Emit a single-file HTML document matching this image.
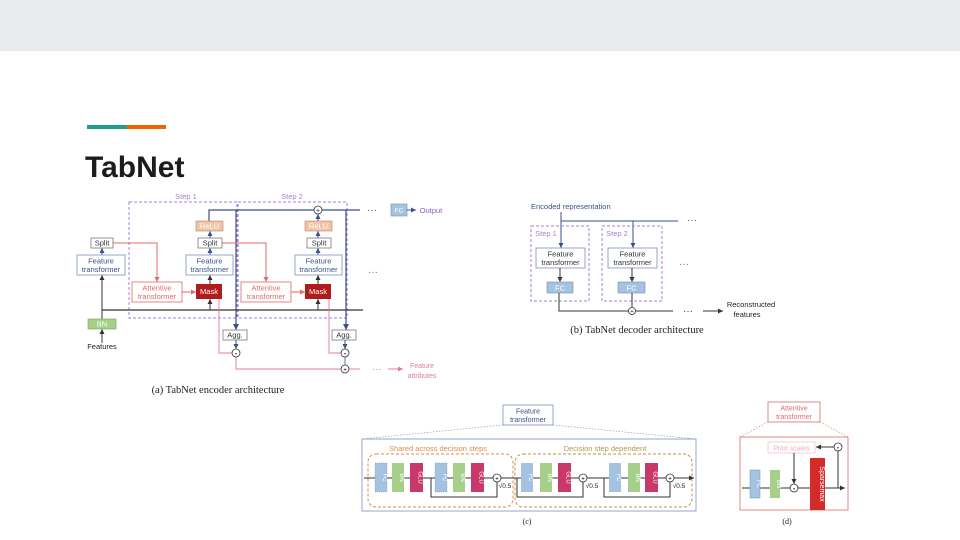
<!DOCTYPE html>
<html><head><meta charset="utf-8"><style>
html,body{margin:0;padding:0;background:#fff;}
svg{display:block;}
text{font-family:"Liberation Sans",sans-serif;}
.s{font-family:"Liberation Serif",serif;}
</style></head><body>
<svg width="960" height="540" viewBox="0 0 960 540" xmlns="http://www.w3.org/2000/svg">
<defs>
<marker id="ab" markerWidth="6" markerHeight="6" refX="5" refY="3" orient="auto"><path d="M0,0.5 L5,3 L0,5.5z" fill="#3b4f8f"/></marker>
<marker id="ak" markerWidth="6" markerHeight="6" refX="5" refY="3" orient="auto"><path d="M0,0.5 L5,3 L0,5.5z" fill="#333"/></marker>
<marker id="ar" markerWidth="6" markerHeight="6" refX="5" refY="3" orient="auto"><path d="M0,0.5 L5,3 L0,5.5z" fill="#e06a6a"/></marker>
<marker id="ap" markerWidth="6" markerHeight="6" refX="5" refY="3" orient="auto"><path d="M0,0.5 L5,3 L0,5.5z" fill="#e07aa0"/></marker>
</defs>
<rect x="0" y="0" width="960" height="51" fill="#e8ebeb"/>
<rect x="87" y="125" width="40" height="4" fill="#1f9e89"/>
<rect x="127" y="125" width="39" height="4" fill="#f26300"/>
<text x="85" y="177" font-size="30" font-weight="bold" fill="#1c1c1c">TabNet</text>

<!-- ENCODER -->
<g font-size="7.5" text-anchor="middle">
<rect x="129" y="202" width="108" height="116" fill="none" stroke="#a77fd8" stroke-dasharray="3,2"/>
<rect x="238" y="202" width="109" height="116" fill="none" stroke="#a77fd8" stroke-dasharray="3,2"/>
<text x="186" y="199" fill="#a77fd8">Step 1</text>
<text x="292" y="199" fill="#a77fd8">Step 2</text>
<line x1="102" y1="310" x2="363" y2="310" stroke="#333" stroke-width="1.2"/>
<line x1="102" y1="319" x2="102" y2="275" stroke="#333" marker-end="url(#ak)"/>
<line x1="102" y1="343" x2="102" y2="329" stroke="#333" marker-end="url(#ak)"/>
<line x1="102" y1="255" x2="102" y2="248" stroke="#3b4f8f" marker-end="url(#ab)"/>
<line x1="210" y1="310" x2="210" y2="299" stroke="#333" marker-end="url(#ak)"/>
<line x1="318" y1="310" x2="318" y2="299" stroke="#333" marker-end="url(#ak)"/>
<line x1="210" y1="284" x2="210" y2="275" stroke="#333" marker-end="url(#ak)"/>
<line x1="318" y1="284" x2="318" y2="275" stroke="#333" marker-end="url(#ak)"/>
<line x1="210" y1="255" x2="210" y2="248" stroke="#3b4f8f" marker-end="url(#ab)"/>
<line x1="318" y1="255" x2="318" y2="248" stroke="#3b4f8f" marker-end="url(#ab)"/>
<line x1="210" y1="238" x2="210" y2="231" stroke="#3b4f8f" marker-end="url(#ab)"/>
<line x1="318" y1="238" x2="318" y2="231" stroke="#3b4f8f" marker-end="url(#ab)"/>
<polyline points="209,221 209,210 314,210" fill="none" stroke="#3b4f8f" stroke-width="1.2"/>
<line x1="322" y1="210" x2="360" y2="210" stroke="#3b4f8f" stroke-width="1.2"/>
<line x1="318" y1="221" x2="318" y2="214" stroke="#3b4f8f" marker-end="url(#ab)"/>
<circle cx="318" cy="210" r="4" fill="#fff" stroke="#333" stroke-width="0.8"/>
<text x="318" y="212.5" font-size="6">+</text>
<line x1="236" y1="210" x2="236" y2="330" stroke="#3b4f8f" stroke-width="1.2" marker-end="url(#ab)"/>
<line x1="346" y1="210" x2="346" y2="330" stroke="#3b4f8f" stroke-width="1.2" marker-end="url(#ab)"/>
<text x="372" y="213" font-size="10" fill="#3b4f8f">···</text>
<rect x="391" y="204" width="16" height="12" fill="#a5c3e0" stroke="#6f8fb5" stroke-width="0.6"/>
<text x="399" y="212.5" fill="#fff" font-size="6.5">FC</text>
<line x1="407" y1="210" x2="416" y2="210" stroke="#3b4f8f" marker-end="url(#ab)"/>
<text x="431" y="213" fill="#8a5cc8" font-size="7.5">Output</text>
<polyline points="113,243 157,243 157,282" fill="none" stroke="#e06a6a" marker-end="url(#ar)"/>
<polyline points="222,243 266,243 266,282" fill="none" stroke="#e06a6a" marker-end="url(#ar)"/>
<line x1="182" y1="292" x2="196" y2="292" stroke="#e06a6a" marker-end="url(#ar)"/>
<line x1="291" y1="292" x2="305" y2="292" stroke="#e06a6a" marker-end="url(#ar)"/>
<polyline points="219,299 219,353 232,353" fill="none" stroke="#e07aa0" stroke-width="0.9"/>
<polyline points="329,299 329,353 341,353" fill="none" stroke="#e07aa0" stroke-width="0.9"/>
<polyline points="236,357 236,369 341,369" fill="none" stroke="#e07aa0" stroke-width="0.9"/>
<line x1="345" y1="357" x2="345" y2="365" stroke="#3b4f8f" stroke-width="0.8"/>
<line x1="236" y1="340" x2="236" y2="349" stroke="#3b4f8f" marker-end="url(#ab)"/>
<line x1="345" y1="340" x2="345" y2="349" stroke="#3b4f8f" marker-end="url(#ab)"/>
<line x1="349" y1="369" x2="360" y2="369" stroke="#e07aa0" stroke-width="0.9"/>
<text x="377" y="372" font-size="10" fill="#e07aa0">···</text>
<line x1="388" y1="369" x2="403" y2="369" stroke="#e07aa0" marker-end="url(#ap)"/>
<text x="422" y="368" fill="#e07aa0" font-size="7">Feature</text>
<text x="422" y="378" fill="#e07aa0" font-size="7">attributes</text>
<circle cx="236" cy="353" r="4" fill="#fff" stroke="#333" stroke-width="0.8"/>
<circle cx="345" cy="353" r="4" fill="#fff" stroke="#333" stroke-width="0.8"/>
<circle cx="345" cy="369" r="4" fill="#fff" stroke="#333" stroke-width="0.8"/>
<text x="236" y="355.5" font-size="5">•</text><text x="345" y="355.5" font-size="5">•</text><text x="345" y="371.5" font-size="6">+</text>
<rect x="91" y="238" width="22" height="10" fill="#fff" stroke="#666" stroke-width="0.7"/><text x="102" y="245.5" fill="#333">Split</text>
<rect x="77" y="255" width="48" height="20" fill="#fff" stroke="#7b8fc0" stroke-width="0.8"/><text x="101" y="263.5" fill="#3b4f8f">Feature</text><text x="101" y="272" fill="#3b4f8f">transformer</text>
<rect x="88" y="319" width="28" height="10" fill="#a6cf8a" stroke="#7aa060" stroke-width="0.6"/><text x="102" y="326.5" fill="#fff">BN</text>
<text x="102" y="349" fill="#222">Features</text>
<g id="col1">
<rect x="196" y="221" width="27" height="10" fill="#f0c4a5" stroke="#b08a70" stroke-width="0.6"/><text x="209.5" y="228.5" fill="#fff">ReLU</text>
<rect x="198" y="238" width="24" height="10" fill="#fff" stroke="#666" stroke-width="0.7"/><text x="210" y="245.5" fill="#333">Split</text>
<rect x="186" y="255" width="47" height="20" fill="#fff" stroke="#7b8fc0" stroke-width="0.8"/><text x="209.5" y="263.5" fill="#3b4f8f">Feature</text><text x="209.5" y="272" fill="#3b4f8f">transformer</text>
<rect x="196" y="284" width="26" height="15" fill="#b01c1c"/><text x="209" y="294" fill="#fff">Mask</text>
<rect x="132" y="282" width="50" height="20" fill="#fff" stroke="#e06a6a" stroke-width="0.8"/><text x="157" y="290.5" fill="#e06a6a">Attentive</text><text x="157" y="299" fill="#e06a6a">transformer</text>
<rect x="223" y="330" width="24" height="10" fill="#fff" stroke="#666" stroke-width="0.7"/><text x="235" y="337.5" fill="#333">Agg.</text>
</g>
<use href="#col1" transform="translate(109,0)"/>
<text x="373" y="275" font-size="10" fill="#8a5cc8">···</text>
<text x="218" y="393" class="s" font-size="10.5" fill="#222">(a)  TabNet encoder architecture</text>
</g>

<!-- DECODER -->
<g font-size="7.5" text-anchor="middle">
<text x="531" y="209" text-anchor="start" fill="#3b4f8f">Encoded representation</text>
<line x1="561" y1="212" x2="561" y2="248" stroke="#3b4f8f" marker-end="url(#ab)"/>
<line x1="561" y1="221" x2="678" y2="221" stroke="#3b4f8f" stroke-width="1.1"/>
<line x1="633" y1="221" x2="633" y2="248" stroke="#3b4f8f" marker-end="url(#ab)"/>
<text x="692" y="223" font-size="10" fill="#3b4f8f">···</text>
<rect x="531" y="226" width="58" height="75" fill="none" stroke="#a77fd8" stroke-dasharray="3,2"/>
<rect x="602" y="226" width="60" height="75" fill="none" stroke="#a77fd8" stroke-dasharray="3,2"/>
<text x="546" y="236" fill="#a77fd8">Step 1</text>
<text x="617" y="236" fill="#a77fd8">Step 2</text>
<rect x="536" y="248" width="49" height="20" fill="#fff" stroke="#7b8fc0" stroke-width="0.8"/><text x="560.5" y="256.5" fill="#333">Feature</text><text x="560.5" y="265" fill="#333">transformer</text>
<rect x="608" y="248" width="49" height="20" fill="#fff" stroke="#7b8fc0" stroke-width="0.8"/><text x="632.5" y="256.5" fill="#333">Feature</text><text x="632.5" y="265" fill="#333">transformer</text>
<line x1="560" y1="268" x2="560" y2="282" stroke="#333" marker-end="url(#ak)"/>
<line x1="632" y1="268" x2="632" y2="282" stroke="#333" marker-end="url(#ak)"/>
<rect x="547" y="282" width="26" height="11" fill="#a5c3e0" stroke="#6f8fb5" stroke-width="0.6"/><text x="560" y="290.5" fill="#fff">FC</text>
<rect x="618" y="282" width="27" height="11" fill="#a5c3e0" stroke="#6f8fb5" stroke-width="0.6"/><text x="631.5" y="290.5" fill="#fff">FC</text>
<polyline points="559,293 559,311 673,311" fill="none" stroke="#333"/>
<line x1="632" y1="293" x2="632" y2="307" stroke="#333"/>
<circle cx="632" cy="311" r="3.5" fill="#fff" stroke="#333" stroke-width="0.8"/><text x="632" y="313" font-size="5">+</text>
<text x="688" y="314" font-size="10" fill="#333">···</text>
<line x1="703" y1="311" x2="723" y2="311" stroke="#333" marker-end="url(#ak)"/>
<text x="751" y="307" fill="#222">Reconstructed</text><text x="747" y="317" fill="#222">features</text>
<text x="684" y="267" font-size="10" fill="#8a5cc8">···</text>
<text x="637" y="333" class="s" font-size="10.5" fill="#222">(b)  TabNet decoder architecture</text>
</g>

<!-- FEATURE TRANSFORMER (c) -->
<g font-size="7" text-anchor="middle">
<rect x="503" y="405" width="50" height="20" fill="#fff" stroke="#7b8fc0" stroke-width="0.8"/>
<text x="528" y="413.5" fill="#3b4f8f">Feature</text><text x="528" y="422" fill="#3b4f8f">transformer</text>
<line x1="503" y1="425" x2="362" y2="439" stroke="#7b8fc0" stroke-width="0.6" stroke-dasharray="1.5,1.5"/>
<line x1="553" y1="425" x2="696" y2="439" stroke="#7b8fc0" stroke-width="0.6" stroke-dasharray="1.5,1.5"/>
<rect x="362" y="439" width="334" height="72" fill="none" stroke="#7b8fc0" stroke-width="0.8"/>
<rect x="368" y="454" width="145" height="53" rx="8" fill="none" stroke="#e08a4a" stroke-dasharray="3,2"/>
<rect x="515" y="454" width="177" height="53" rx="8" fill="none" stroke="#b8974a" stroke-dasharray="3,2"/>
<text x="438" y="451" fill="#e08a4a" font-size="7.5">Shared across decision steps</text>
<text x="605" y="451" fill="#b8974a" font-size="7.5">Decision step dependent</text>
<line x1="364" y1="478" x2="694" y2="478" stroke="#333" marker-end="url(#ak)"/>
<polyline points="431,478 431,497 497,497 497,482" fill="none" stroke="#333"/>
<polyline points="517,478 517,497 583,497 583,482" fill="none" stroke="#333"/>
<polyline points="604,478 604,497 670,497 670,482" fill="none" stroke="#333"/>
<g font-size="6">
<rect x="375" y="463" width="12" height="29" fill="#a5c3e0" stroke="#6f8fb5" stroke-width="0.5" stroke-dasharray="1,1"/><text transform="translate(383,477.5) rotate(90)" fill="#fff">FC</text>
<rect x="392" y="463" width="12" height="29" fill="#a6cf8a"/><text transform="translate(400,477.5) rotate(90)" fill="#fff">BN</text>
<rect x="410" y="463" width="13" height="29" fill="#c8386a"/><text transform="translate(418.5,477.5) rotate(90)" fill="#fff">GLU</text>
<rect x="435" y="463" width="12" height="29" fill="#a5c3e0" stroke="#6f8fb5" stroke-width="0.5" stroke-dasharray="1,1"/><text transform="translate(443,477.5) rotate(90)" fill="#fff">FC</text>
<rect x="453" y="463" width="12" height="29" fill="#a6cf8a"/><text transform="translate(461,477.5) rotate(90)" fill="#fff">BN</text>
<rect x="471" y="463" width="13" height="29" fill="#c8386a"/><text transform="translate(479.5,477.5) rotate(90)" fill="#fff">GLU</text>
<rect x="521" y="463" width="12" height="29" fill="#a5c3e0"/><text transform="translate(529,477.5) rotate(90)" fill="#fff">FC</text>
<rect x="540" y="463" width="12" height="29" fill="#a6cf8a"/><text transform="translate(548,477.5) rotate(90)" fill="#fff">BN</text>
<rect x="558" y="463" width="13" height="29" fill="#c8386a"/><text transform="translate(566.5,477.5) rotate(90)" fill="#fff">GLU</text>
<rect x="609" y="463" width="12" height="29" fill="#a5c3e0"/><text transform="translate(617,477.5) rotate(90)" fill="#fff">FC</text>
<rect x="628" y="463" width="12" height="29" fill="#a6cf8a"/><text transform="translate(636,477.5) rotate(90)" fill="#fff">BN</text>
<rect x="645" y="463" width="13" height="29" fill="#c8386a"/><text transform="translate(653.5,477.5) rotate(90)" fill="#fff">GLU</text>
</g>
<circle cx="497" cy="478" r="4" fill="#fff" stroke="#333" stroke-width="0.8"/><text x="497" y="480.5" font-size="6">+</text>
<circle cx="583" cy="478" r="4" fill="#fff" stroke="#333" stroke-width="0.8"/><text x="583" y="480.5" font-size="6">+</text>
<circle cx="670" cy="478" r="4" fill="#fff" stroke="#333" stroke-width="0.8"/><text x="670" y="480.5" font-size="6">+</text>
<text x="505" y="488" font-size="6.5" fill="#222">√0.5</text>
<text x="592" y="488" font-size="6.5" fill="#222">√0.5</text>
<text x="679" y="488" font-size="6.5" fill="#222">√0.5</text>
<text x="527" y="524" class="s" font-size="8" fill="#222">(c)</text>
</g>

<!-- ATTENTIVE TRANSFORMER (d) -->
<g font-size="7" text-anchor="middle">
<rect x="768" y="402" width="52" height="20" fill="#fff" stroke="#e06a6a" stroke-width="0.8"/>
<text x="794" y="410.5" fill="#e06a6a">Attentive</text><text x="794" y="419" fill="#e06a6a">transformer</text>
<line x1="768" y1="422" x2="740" y2="437" stroke="#e06a6a" stroke-width="0.6" stroke-dasharray="1.5,1.5"/>
<line x1="820" y1="422" x2="848" y2="437" stroke="#e06a6a" stroke-width="0.6" stroke-dasharray="1.5,1.5"/>
<rect x="740" y="437" width="108" height="73" fill="none" stroke="#e06a6a" stroke-width="0.8"/>
<rect x="768" y="442" width="47" height="11" fill="#fff" stroke="#f0b8c8" stroke-width="0.7"/>
<text x="791.5" y="450.5" fill="#f0a8c0" font-style="italic">Prior scales</text>
<line x1="742" y1="488" x2="845" y2="488" stroke="#333" marker-end="url(#ak)"/>
<line x1="838" y1="488" x2="838" y2="451" stroke="#333"/>
<line x1="834" y1="447" x2="816" y2="447" stroke="#333" marker-end="url(#ak)"/>
<line x1="794" y1="453" x2="794" y2="484" stroke="#333" marker-end="url(#ak)"/>
<rect x="750" y="470" width="10" height="28" fill="#a5c3e0" stroke="#6f8fb5" stroke-width="0.5"/><text transform="translate(757,484) rotate(90)" fill="#fff" font-size="6">FC</text>
<rect x="770" y="470" width="10" height="28" fill="#a6cf8a"/><text transform="translate(777,484) rotate(90)" fill="#fff" font-size="6">BN</text>
<rect x="810" y="458" width="15" height="52" fill="#d42a2a"/><text transform="translate(820,484) rotate(90)" fill="#fff" font-size="7">Sparsemax</text>
<circle cx="794" cy="488" r="4" fill="#fff" stroke="#333" stroke-width="0.8"/><text x="794" y="490.5" font-size="5">•</text>
<circle cx="838" cy="447" r="4" fill="#fff" stroke="#333" stroke-width="0.8"/><text x="838" y="449.5" font-size="5">•</text>
<text x="787" y="524" class="s" font-size="8" fill="#222">(d)</text>
</g>
</svg>
</body></html>
